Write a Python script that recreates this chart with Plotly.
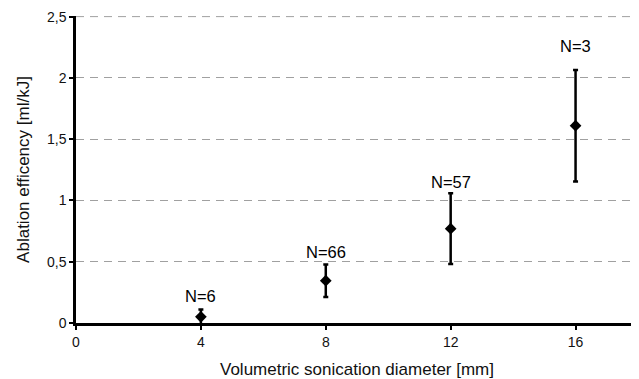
import plotly.graph_objects as go

diameters = [4, 8, 12, 16]
efficiency = [0.05, 0.345, 0.77, 1.61]
err = [0.06, 0.132, 0.288, 0.455]
n_labels = ["N=6", "N=66", "N=57", "N=3"]
label_y = [0.217, 0.58, 1.154, 2.26]
y_ticks = [0, 0.5, 1, 1.5, 2, 2.5]
x_ticks = [0, 4, 8, 12, 16]

FONT = "Liberation Sans, Arial, sans-serif"
GRID = "#a0a0a0"

fig = go.Figure()
fig.add_trace(go.Scatter(
    x=diameters, y=efficiency, mode="markers",
    marker=dict(symbol="diamond", size=9, color="black"),
    error_y=dict(type="data", array=err, visible=True, color="black", thickness=2.5, width=2.5),
    cliponaxis=False, showlegend=False,
))
for x, y, t in zip(diameters, label_y, n_labels):
    fig.add_annotation(x=x, y=y, text=t, showarrow=False,
                       font=dict(size=16.5, color="black", family=FONT))

# top gridline (plotly hides the gridline lying on the plot edge)
fig.add_shape(type="line", xref="paper", yref="y", x0=0, x1=1,
              y0=y_ticks[-1], y1=y_ticks[-1],
              line=dict(color=GRID, width=1, dash="8px,6px"), layer="below")

fig.update_layout(
    width=639, height=379,
    margin=dict(l=68, r=9, t=8, b=64),
    paper_bgcolor="white", plot_bgcolor="white",
    separators=", ",
    font=dict(family=FONT, size=14, color="#111"),
    xaxis=dict(range=[0, 18], tickvals=x_ticks, showgrid=False, zeroline=False, automargin=False,
               showline=True, linecolor="black", linewidth=2.5, ticks="outside", ticklen=4,
               tickcolor="black", tickwidth=1.5, tickfont=dict(size=14),
               title=dict(text="Volumetric sonication diameter [mm]", font=dict(size=17), standoff=15)),
    yaxis=dict(range=[0, 2.505], tickvals=y_ticks, showgrid=True, automargin=False,
               gridcolor=GRID, griddash="8px,6px", gridwidth=1, zeroline=False,
               showline=True, linecolor="black", linewidth=2.5, ticks="outside", ticklen=4,
               tickcolor="black", tickwidth=1.5, tickfont=dict(size=14),
               title=dict(text="Ablation efficency [ml/kJ]", font=dict(size=17), standoff=14)),
)
fig.write_html("out.html")
